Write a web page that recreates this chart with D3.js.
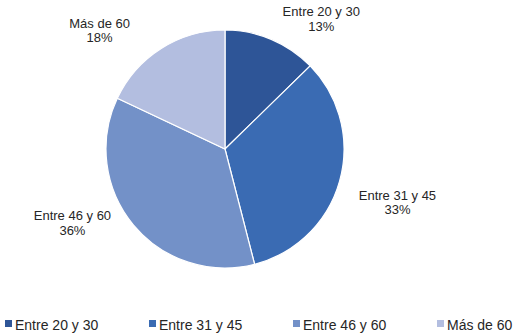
<!DOCTYPE html>
<html>
<head>
<meta charset="utf-8">
<script src="https://cdn.jsdelivr.net/npm/d3@7"></script>
<style>
  body { margin: 0; background: #fff; }
  text { font-family: "Liberation Sans", Arial, sans-serif; fill: #262626; }
</style>
</head>
<body>
<div id="pie"></div>
<script>
// data
var categories = ["Entre 20 y 30", "Entre 31 y 45", "Entre 46 y 60", "Más de 60"];
var values = [12.7, 33.3, 36.0, 18.0];
var pctLabels = ["13%", "33%", "36%", "18%"];
var colors = ["#2E5597", "#3A6BB3", "#7391C8", "#B3BEE0"];

// label nudges from the arc centroid (layout only)
var labelNudge = [[38, 8], [28, 13], [-37, -22], [-45, 8]];

var width = 520, height = 335,
    cx = 225, cy = 149, radius = 119;

var svg = d3.select("#pie")
    .append("svg")
    .attr("width", width)
    .attr("height", height);

var data = categories.map(function(c, i) {
    return {cat: c, value: values[i], pct: pctLabels[i], color: colors[i], i: i};
});

var pie = d3.pie()
    .sort(null)
    .value(function(d) { return d.value; });

var arc = d3.arc()
    .innerRadius(0)
    .outerRadius(radius);

var labelArc = d3.arc()
    .innerRadius(150)
    .outerRadius(150);

var g = svg.append("g")
    .attr("transform", "translate(" + cx + "," + cy + ")");

g.selectAll(".slice")
    .data(pie(data))
    .enter().append("path")
    .attr("class", "slice")
    .attr("d", arc)
    .style("fill", function(d) { return d.data.color; })
    .style("stroke", "#fff")
    .style("stroke-width", 1.2);

// data labels
var labels = g.selectAll(".lbl")
    .data(pie(data))
    .enter().append("text")
    .attr("class", "lbl")
    .attr("text-anchor", "middle")
    .style("font-size", "13px")
    .attr("transform", function(d) {
        var c = labelArc.centroid(d), n = labelNudge[d.data.i];
        return "translate(" + (c[0] + n[0]) + "," + (c[1] + n[1]) + ")";
    });

labels.append("tspan")
    .attr("x", 0)
    .attr("y", -2.5)
    .text(function(d) { return d.data.cat; });

labels.append("tspan")
    .attr("x", 0)
    .attr("y", 12)
    .text(function(d) { return d.data.pct; });

// legend
var legx = d3.scalePoint()
    .domain(categories)
    .range([5, 437]);

var leg = svg.selectAll(".leg")
    .data(data)
    .enter().append("g")
    .attr("class", "leg")
    .attr("transform", function(d) { return "translate(" + legx(d.cat) + ",320)"; });

leg.append("rect")
    .attr("width", 7)
    .attr("height", 7)
    .style("fill", function(d) { return d.color; });

leg.append("text")
    .attr("x", 10)
    .attr("y", 9.5)
    .style("font-size", "14px")
    .text(function(d) { return d.cat; });
</script>
</body>
</html>
